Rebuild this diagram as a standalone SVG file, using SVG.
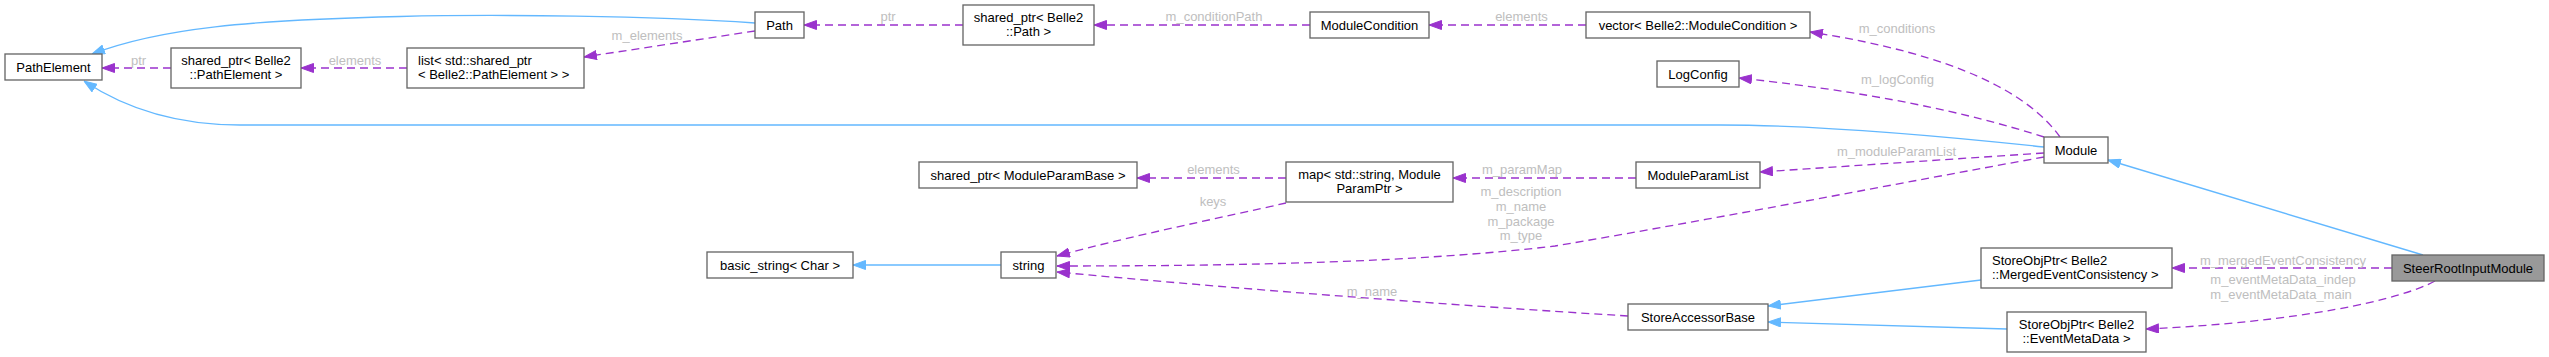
<svg xmlns="http://www.w3.org/2000/svg" width="2549" height="357" viewBox="0 0 2549 357">
<style>
.n rect{fill:#ffffff;stroke:#666666;stroke-width:1.33}
.root rect{fill:#999999}
.n text{font-family:"Liberation Sans",Arial,Helvetica,sans-serif;font-size:13px;fill:#000000;text-anchor:middle}
.n text.l{text-anchor:start}
.inh{fill:none;stroke:#63B8FF;stroke-width:1.33;marker-end:url(#ab)}
.use{fill:none;stroke:#9A32CD;stroke-width:1.33;stroke-dasharray:8,5;marker-end:url(#ap)}
.lbl{font-family:"Liberation Sans",Arial,Helvetica,sans-serif;font-size:13px;fill:#BEBEBE;text-anchor:middle}
</style>
<defs>
<marker id="ab" viewBox="0 0 13 10" refX="13" refY="5" markerWidth="13" markerHeight="10" markerUnits="userSpaceOnUse" orient="auto">
<path d="M0.5,0.5 L13,5 L0.5,9.5 z" fill="#63B8FF" stroke="#63B8FF" stroke-width="1"/>
</marker>
<marker id="ap" viewBox="0 0 13 10" refX="13" refY="5" markerWidth="13" markerHeight="10" markerUnits="userSpaceOnUse" orient="auto">
<path d="M0.5,0.5 L13,5 L0.5,9.5 z" fill="#9A32CD" stroke="#9A32CD" stroke-width="1"/>
</marker>
</defs>
<rect width="2549" height="357" fill="#ffffff"/>
<g id="edges">
<path class="inh" d="M2423,255 L2108,160"/>
<path class="inh" d="M2044,147 C1960,138 1830,125 1720,125 L240,125 C170,125 120,105 84,81"/>
<path class="inh" d="M755,23 C650,16 500,14 400,16.5 C250,20 160,28 92,54"/>
<path class="inh" d="M1981,280 L1768,306"/>
<path class="inh" d="M2007,329 L1768,322"/>
<path class="inh" d="M1001,265 L853,265"/>
<path class="use" d="M2060,137 C2030,95 1960,55 1810,32"/>
<path class="use" d="M2044,137 C1990,120 1900,95 1739,78"/>
<path class="use" d="M2044,153 L1760,172"/>
<path class="use" d="M2044,157 C1900,183 1720,218 1555,246 C1420,262 1250,266 1057,266"/>
<path class="use" d="M1628,316 C1450,305 1250,290 1057,272"/>
<path class="use" d="M1286,203 C1220,218 1130,236 1057,256"/>
<path class="use" d="M1286,178 L1137,178"/>
<path class="use" d="M1636,178 L1453,178"/>
<path class="use" d="M407,68 L301,68"/>
<path class="use" d="M171,68 L102,68"/>
<path class="use" d="M755,31 L584,57"/>
<path class="use" d="M963,25 L804,25"/>
<path class="use" d="M1310,25 L1094,25"/>
<path class="use" d="M1586,25 L1429,25"/>
<path class="use" d="M2392,268 L2172,268"/>
<path class="use" d="M2435,281 C2400,300 2300,322 2146,329"/>
<text class="lbl" x="138.5" y="64.5">ptr</text>
<text class="lbl" x="355" y="64.5">elements</text>
<text class="lbl" x="647" y="39.5">m_elements</text>
<text class="lbl" x="888" y="21">ptr</text>
<text class="lbl" x="1214" y="21">m_conditionPath</text>
<text class="lbl" x="1521.5" y="21">elements</text>
<text class="lbl" x="1897" y="32.5">m_conditions</text>
<text class="lbl" x="1897.5" y="83.5">m_logConfig</text>
<text class="lbl" x="1896.5" y="155.5">m_moduleParamList</text>
<text class="lbl" x="1522" y="174">m_paramMap</text>
<text class="lbl" x="1213.5" y="174">elements</text>
<text class="lbl" x="1213" y="205.5">keys</text>
<text class="lbl" x="1521" y="196">m_description</text>
<text class="lbl" x="1521" y="211">m_name</text>
<text class="lbl" x="1521" y="225.5">m_package</text>
<text class="lbl" x="1521" y="240">m_type</text>
<text class="lbl" x="1372" y="295.5">m_name</text>
<text class="lbl" x="2283" y="264.5">m_mergedEventConsistency</text>
<text class="lbl" x="2283" y="283.5">m_eventMetaData_indep</text>
<text class="lbl" x="2281" y="298.5">m_eventMetaData_main</text>
</g>
<g id="node1" class="n root"><rect x="2392" y="255" width="152" height="26"/><text x="2468" y="272.5">SteerRootInputModule</text></g>
<g id="node2" class="n"><rect x="2044" y="137" width="64" height="26"/><text x="2076" y="154.5">Module</text></g>
<g id="node3" class="n"><rect x="5" y="54" width="97" height="26"/><text x="53.5" y="71.5">PathElement</text></g>
<g id="node4" class="n"><rect x="171" y="48" width="130" height="40"/><text x="236" y="65">shared_ptr&lt; Belle2</text><text x="236" y="79">::PathElement &gt;</text></g>
<g id="node5" class="n"><rect x="407" y="48" width="177" height="40"/><text class="l" x="418" y="65">list&lt; std::shared_ptr</text><text class="l" x="418" y="79">&lt; Belle2::PathElement &gt; &gt;</text></g>
<g id="node6" class="n"><rect x="755" y="12" width="49" height="26"/><text x="779.5" y="29.5">Path</text></g>
<g id="node7" class="n"><rect x="963" y="5" width="131" height="40"/><text x="1028.5" y="22">shared_ptr&lt; Belle2</text><text x="1028.5" y="36">::Path &gt;</text></g>
<g id="node8" class="n"><rect x="1310" y="12" width="119" height="26"/><text x="1369.5" y="29.5">ModuleCondition</text></g>
<g id="node9" class="n"><rect x="1586" y="12" width="224" height="26"/><text x="1698" y="29.5">vector&lt; Belle2::ModuleCondition &gt;</text></g>
<g id="node10" class="n"><rect x="1657" y="61" width="82" height="26"/><text x="1698" y="78.5">LogConfig</text></g>
<g id="node11" class="n"><rect x="1636" y="162" width="124" height="26"/><text x="1698" y="179.5">ModuleParamList</text></g>
<g id="node12" class="n"><rect x="1286" y="162" width="167" height="40"/><text x="1369.5" y="179">map&lt; std::string, Module</text><text x="1369.5" y="193">ParamPtr &gt;</text></g>
<g id="node13" class="n"><rect x="919" y="162" width="218" height="26"/><text x="1028" y="179.5">shared_ptr&lt; ModuleParamBase &gt;</text></g>
<g id="node14" class="n"><rect x="1001" y="252" width="55" height="26"/><text x="1028.5" y="269.5">string</text></g>
<g id="node15" class="n"><rect x="707" y="252" width="146" height="26"/><text x="780" y="269.5">basic_string&lt; Char &gt;</text></g>
<g id="node16" class="n"><rect x="1628" y="304" width="140" height="26"/><text x="1698" y="321.5">StoreAccessorBase</text></g>
<g id="node17" class="n"><rect x="1981" y="248" width="191" height="40"/><text class="l" x="1992" y="265">StoreObjPtr&lt; Belle2</text><text class="l" x="1992" y="279">::MergedEventConsistency &gt;</text></g>
<g id="node18" class="n"><rect x="2007" y="312" width="139" height="40"/><text x="2076.5" y="329">StoreObjPtr&lt; Belle2</text><text x="2076.5" y="343">::EventMetaData &gt;</text></g>
</svg>
